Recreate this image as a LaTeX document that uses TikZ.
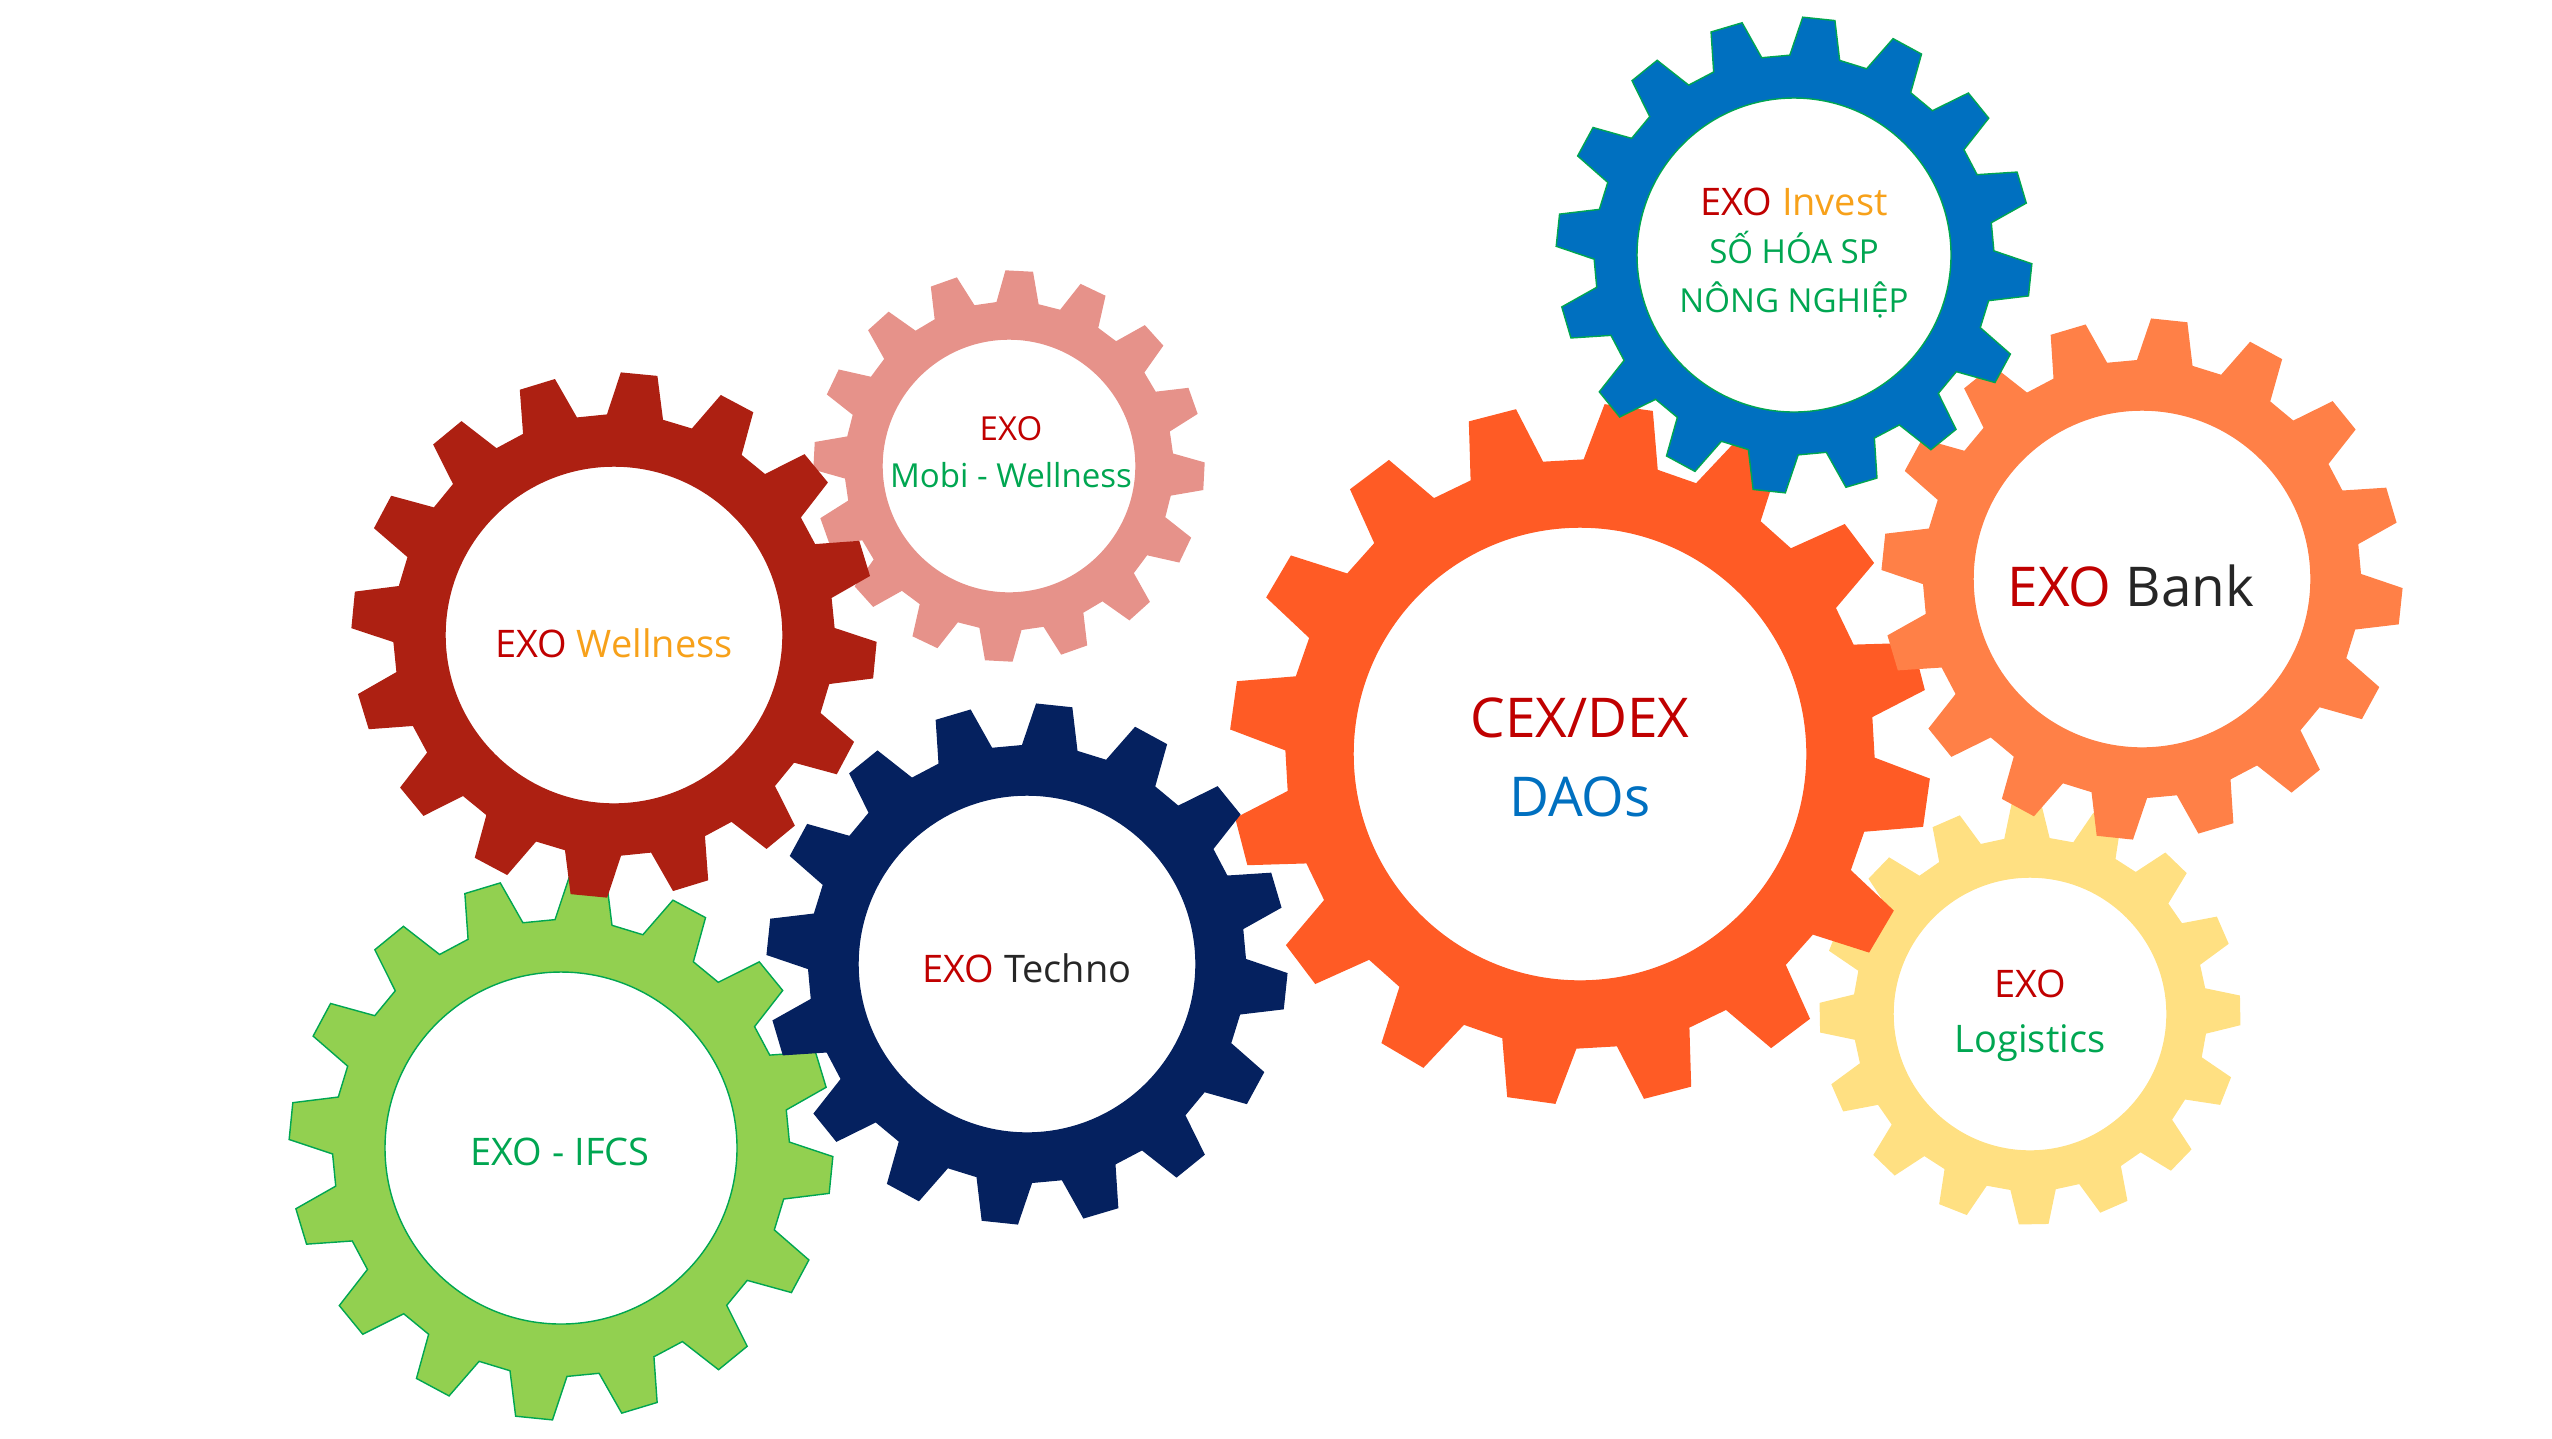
\documentclass[tikz,border=0pt]{standalone}
\usepackage{fontspec}
\setmainfont{Open Sans}
\usepackage{tikz}
\definecolor{exored}{HTML}{C00000}
\definecolor{exoorange}{HTML}{F7A11A}
\definecolor{exogreen}{HTML}{00A651}
\definecolor{daoblue}{HTML}{0070C0}
\definecolor{darktext}{HTML}{262626}
\definecolor{gearblue}{HTML}{0070C0}
\definecolor{gearpink}{HTML}{E6928A}
\definecolor{gearred}{HTML}{AD2012}
\definecolor{gearcex}{HTML}{FF5B25}
\definecolor{gearbank}{HTML}{FF8047}
\definecolor{gearyellow}{HTML}{FFE082}
\definecolor{gearnavy}{HTML}{05215F}
\definecolor{gearlime}{HTML}{92D050}

\begin{document}
\begin{tikzpicture}[x=0.01cm,y=-0.01cm,
  lbl/.style={align=center,font=\fontsize{10.8}{15.6}\selectfont},
  lblsmall/.style={align=center,font=\fontsize{9.4}{13.4}\selectfont},
  lblbig/.style={align=center,font=\fontsize{15.6}{22.5}\selectfont}]
\useasboundingbox (0,0) rectangle (2552,1438);
% gears: centre x/centre y/hole/tip/phase/fill/edge
\foreach \cx/\cy/\ri/\rt/\ph/\col/\edge in {
  2030/1014/137/210/-1/gearyellow/gearyellow,
  1009/466/127/195/3/gearpink/gearpink,
  561/1148/176/272/5.7/gearlime/exogreen,
  1580/754/227/350/8/gearcex/gearcex,
  2142/579/169/260/6/gearbank/gearbank,
  1794/255/157/238/6/gearblue/exogreen,
  614/635/169/262/5.5/gearred/gearred,
  1027/964/169/260/6/gearnavy/gearnavy}{
  \pgfmathsetmacro{\rr}{0.84*\rt}
  \filldraw[fill=\col,draw=\edge,line width=0.4pt,even odd rule,shift={(\cx,\cy)}]
    ({\ph-7.2}:\rr) \foreach \k in {0,...,15}{
      -- ({\ph+22.5*\k-7.2}:\rr) -- ({\ph+22.5*\k-3.9}:\rt)
      -- ({\ph+22.5*\k+3.9}:\rt) -- ({\ph+22.5*\k+7.2}:\rr)}
    -- cycle (0,0) circle[radius=\ri];
}
\node[lbl,font=\fontsize{10.8}{13.9}\selectfont] (invest) at (1794,253)
  {\textcolor{exored}{EXO} \textcolor{exoorange}{Invest}\\
  \fontsize{9.4}{13.9}\selectfont\textcolor{exogreen}{SỐ HÓA SP}\\
  \fontsize{9.4}{13.9}\selectfont\textcolor{exogreen}{NÔNG NGHIỆP}};
\node[lblsmall] (mobi) at (1011,452) {\textcolor{exored}{EXO}\\ \textcolor{exogreen}{Mobi - Wellness}};
\node[lbl] (wellness) at (614,643) {\textcolor{exored}{EXO} \textcolor{exoorange}{Wellness}};
\node[lblbig] (cex) at (1580,757) {\textcolor{exored}{CEX/DEX}\\ \textcolor{daoblue}{DAOs}};
\node[lblbig] (bank) at (2131,586) {\textcolor{exored}{EXO} \textcolor{darktext}{Bank}};
\node[lbl] (logistics) at (2030,1016) {\textcolor{exored}{EXO}\\ \textcolor{exogreen}{Logistics}};
\node[lbl] (techno) at (1027,968) {\textcolor{exored}{EXO} \textcolor{darktext}{Techno}};
\node[lbl] (ifcs) at (560,1152) {\textcolor{exogreen}{EXO - IFCS}};
\end{tikzpicture}
\end{document}
